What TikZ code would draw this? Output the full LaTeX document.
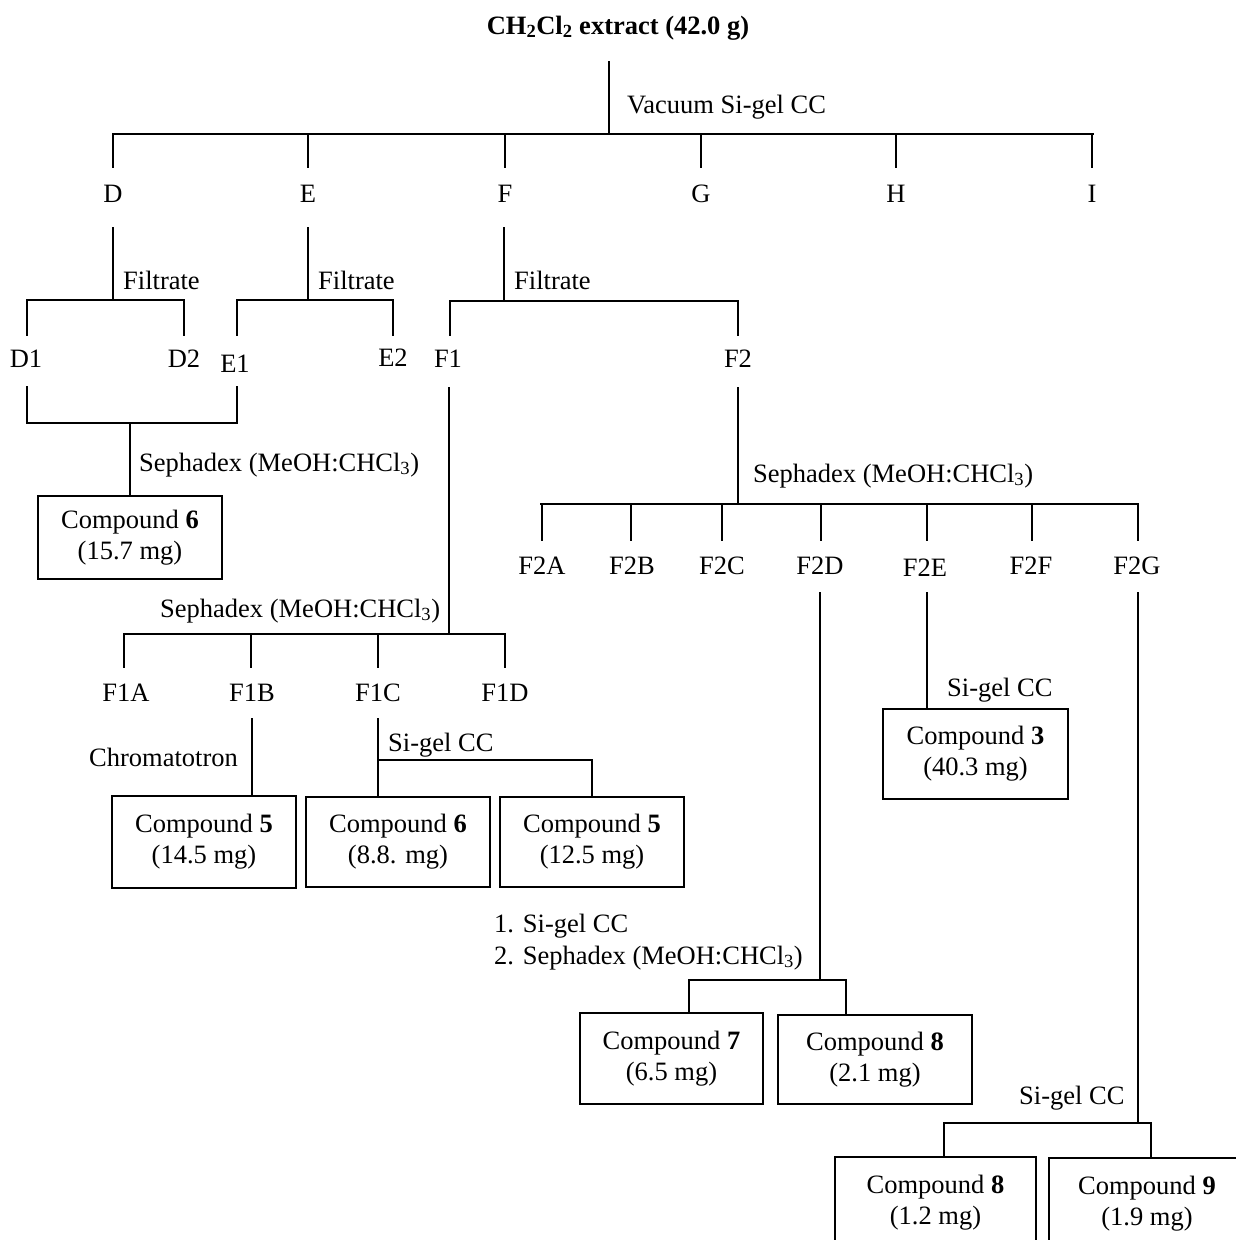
\documentclass[tikz,border=0pt]{standalone}
\usepackage{fontspec}
\setmainfont{Liberation Serif}
\tikzset{
  wire/.style={line width=1.7pt, line cap=rect},
  lbl/.style={inner sep=0pt, anchor=base},
  note/.style={inner sep=0pt, anchor=base west},
  cbox/.style={draw, line width=1.7pt, align=center, inner sep=0pt}
}
\newcommand{\chcl}{(MeOH:CHCl\textsubscript{3})}
\begin{document}
\begin{tikzpicture}[x=1pt, y=-1pt, font=\fontsize{26.5}{31}\selectfont]
\useasboundingbox (0,0) rectangle (1236,1240);
\clip (0,0) rectangle (1236,1240);
\fill[white] (0,0) rectangle (1236,1240);

% ---- crude extract and first column
\node[lbl] (ext) at (618,34) {\textbf{CH\textsubscript{2}Cl\textsubscript{2} extract (42.0 g)}};
\coordinate (s0t) at (609,62);
\coordinate (s0) at (609,134);
\draw[wire] (s0t) -- (s0);
\node[note] (vac) at (627,113) {Vacuum Si-gel CC};
\draw[wire] (113,134) -- (1093,134);
\foreach \n/\x in {D/113,E/308,F/505,G/701,H/896,I/1092} {
  \node[lbl] (\n) at (\x,202) {\n};
  \draw[wire] (\x,134) -- (\x,167);
}

% ---- filtration of D, E and F
\foreach \n/\x in {D/113,E/308,F/504} {
  \draw[wire] (\x,228) -- (\x,300);
  \node[note] at (\x+10,289) {Filtrate};
}
\draw[wire] (27,335) -- (27,300) -- (184,300) -- (184,335);
\draw[wire] (237,335) -- (237,300) -- (393,300) -- (393,335);
\draw[wire] (450,335) -- (450,301) -- (738,301) -- (738,335);
\node[lbl] (D1) at (26,367) {D1};
\node[lbl] (D2) at (184,367) {D2};
\node[lbl] (E1) at (235,372) {E1};
\node[lbl] (E2) at (393,366) {E2};
\node[lbl] (F1) at (448,367) {F1};
\node[lbl] (F2) at (738,367) {F2};

% ---- D1 + E1 on Sephadex
\node[cbox, minimum width=184pt, minimum height=83pt] (c6a) at (130,537.5) {Compound \textbf{6}\\(15.7 mg)};
\draw[wire] (27,387) -- (27,423) -- (237,423) -- (237,387);
\coordinate (m1) at (130,423);
\draw[wire] (m1) -- (c6a.north);
\node[note] at (139,471) {Sephadex \chcl};

% ---- F1 on Sephadex
\coordinate (f1t) at (449,388);
\coordinate (f1b) at (449,634);
\draw[wire] (f1t) -- (f1b);
\node[note] at (160,617) {Sephadex \chcl};
\draw[wire] (124,667) -- (124,634) -- (505,634) -- (505,667);
\draw[wire] (251,634) -- (251,667);
\draw[wire] (378,634) -- (378,667);
\node[lbl] (F1A) at (126,701) {F1A};
\node[lbl] (F1B) at (252,701) {F1B};
\node[lbl] (F1C) at (378,701) {F1C};
\node[lbl] (F1D) at (505,701) {F1D};

\node[cbox, minimum width=184pt, minimum height=92pt] (c5a) at (204,842) {Compound \textbf{5}\\(14.5 mg)};
\node[cbox, minimum width=184pt, minimum height=90pt] (c6b) at (398,842) {Compound \textbf{6}\\(8.8. mg)};
\node[cbox, minimum width=184pt, minimum height=90pt] (c5b) at (592,842) {Compound \textbf{5}\\(12.5 mg)};

\coordinate (f1bt) at (252,719);
\draw[wire] (f1bt) -- (f1bt |- c5a.north);
\node[note] at (89,766) {Chromatotron};

\coordinate (f1ct) at (378,719);
\coordinate (f1cj) at (378,760);
\draw[wire] (f1ct) -- (f1cj) -- (f1cj -| c5b.north) -- (c5b.north);
\draw[wire] (f1cj) -- (f1cj |- c6b.north);
\node[note] at (388,751) {Si-gel CC};

% ---- F2 on Sephadex
\coordinate (f2t) at (738,388);
\coordinate (f2b) at (738,504);
\draw[wire] (f2t) -- (f2b);
\node[note] at (753,482) {Sephadex \chcl};
\draw[wire] (541,504) -- (1138,504);
\foreach \n/\x/\lx/\ly in {F2A/542/542/574,F2B/631/632/574,F2C/722/722/574,F2D/821/820/574,F2E/927/925/576,F2F/1032/1031/574,F2G/1138/1137/574} {
  \draw[wire] (\x,504) -- (\x,540);
  \node[lbl] (\n) at (\lx,\ly) {\n};
}

% ---- F2E
\node[cbox, minimum width=185pt, minimum height=90pt] (c3) at (975.5,754) {Compound \textbf{3}\\(40.3 mg)};
\coordinate (f2et) at (927,593);
\draw[wire] (f2et) -- (f2et |- c3.north);
\node[note] at (947,696) {Si-gel CC};

% ---- F2D
\node[cbox, minimum width=183pt, minimum height=91pt] (c7) at (671.5,1058.5) {Compound \textbf{7}\\(6.5 mg)};
\node[cbox, minimum width=194pt, minimum height=89pt] (c8a) at (875,1059.5) {Compound \textbf{8}\\(2.1 mg)};
\coordinate (f2dt) at (820,593);
\coordinate (f2dj) at (820,980);
\draw[wire] (f2dt) -- (f2dj);
\coordinate (f2dl) at (689,980);
\coordinate (f2dr) at (846,980);
\draw[wire] (f2dl |- c7.north) -- (f2dl) -- (f2dr) -- (f2dr |- c8a.north);
\node[note] at (494,932) {1. Si-gel CC};
\node[note] at (494,964) {2. Sephadex \chcl};

% ---- F2G (boxes run past the lower edge)
\node[cbox, minimum width=201pt, minimum height=92pt] (c8b) at (935.5,1203) {Compound \textbf{8}\\(1.2 mg)};
\node[cbox, minimum width=196pt, minimum height=91pt] (c9) at (1147,1203.5) {Compound \textbf{9}\\(1.9 mg)};
\coordinate (f2gt) at (1138,593);
\coordinate (f2gj) at (1138,1123);
\draw[wire] (f2gt) -- (f2gj);
\coordinate (f2gl) at (944,1123);
\coordinate (f2gr) at (1151,1123);
\draw[wire] (f2gl |- c8b.north) -- (f2gl) -- (f2gr) -- (f2gr |- c9.north);
\node[note] at (1019,1104) {Si-gel CC};
\end{tikzpicture}
\end{document}
